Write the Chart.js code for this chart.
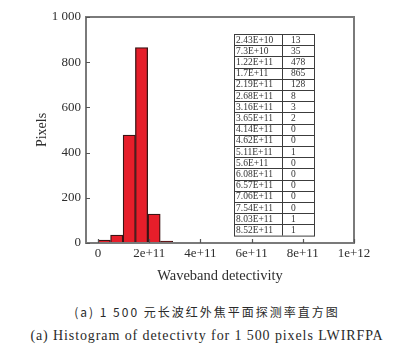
<!DOCTYPE html>
<html>
<head>
<meta charset="utf-8">
<script src="https://cdn.jsdelivr.net/npm/chart.js@4.4.1/dist/chart.umd.min.js"></script>
<style>
  html, body { margin: 0; padding: 0; background: #fff; }
  #wrap { position: relative; width: 414px; height: 354px; overflow: hidden; }
  #cv { position: absolute; left: 0; top: 0; }
  .cap { position: absolute; left: 0; width: 414px; text-align: center; color: #2a2a2a; white-space: nowrap; }
  #capZh { top: 303px; font-family: "Noto Sans CJK SC", sans-serif; font-size: 12px; letter-spacing: 2px; }
  #capEn { top: 328px; font-family: "Liberation Serif", "DejaVu Serif", serif; font-size: 14px; letter-spacing: 0.9px; }
</style>
</head>
<body>
<div id="wrap">
  <canvas id="cv" width="414" height="290"></canvas>
  <div class="cap" id="capZh">(a) 1 500 元长波红外焦平面探测率直方图</div>
  <div class="cap" id="capEn">(a) Histogram of detectivty for 1 500 pixels LWIRFPA</div>
</div>
<script>
// ---- data ----
const binLabels = ["2.43E+10","7.3E+10","1.22E+11","1.7E+11","2.19E+11","2.68E+11","3.16E+11","3.65E+11","4.14E+11","4.62E+11","5.11E+11","5.6E+11","6.08E+11","6.57E+11","7.06E+11","7.54E+11","8.03E+11","8.52E+11"];
const pixelCounts = [13, 35, 478, 865, 128, 8, 3, 2, 0, 0, 1, 0, 0, 0, 0, 0, 1, 1];
const xTickValues = [0, 2e11, 4e11, 6e11, 8e11, 1e12];
const xTickLabels = ["0", "2e+11", "4e+11", "6e+11", "8e+11", "1e+12"];
const yTickValues = [0, 200, 400, 600, 800, 1000];
const yTickLabels = ["0", "200", "400", "600", "800", "1 000"];
const xTitle = "Waveband detectivity";
const yTitle = "Pixels";

const serif = '"Liberation Serif", "DejaVu Serif", serif';
const textColor = '#2e2e2e';
const frameColor = '#7a7a7a';

const points = binLabels.map((s, i) => ({ x: Number(s), y: pixelCounts[i] }));

const framePlugin = {
  id: 'frameAndTable',
  afterDatasetsDraw(chart) {
    const { ctx, chartArea: a, scales } = chart;
    ctx.save();
    // frame
    ctx.strokeStyle = frameColor;
    ctx.lineWidth = 2;
    ctx.strokeRect(a.left, a.top, a.right - a.left, a.bottom - a.top);
    // inward ticks
    ctx.lineWidth = 1.2;
    ctx.strokeStyle = '#555';
    ctx.beginPath();
    xTickValues.forEach(v => {
      const px = Math.round(scales.x.getPixelForValue(v)) + 0.5;
      ctx.moveTo(px, a.bottom); ctx.lineTo(px, a.bottom - 4);
    });
    yTickValues.forEach(v => {
      const py = Math.round(scales.y.getPixelForValue(v)) + 0.5;
      ctx.moveTo(a.left, py); ctx.lineTo(a.left + 4, py);
    });
    ctx.stroke();
    // table
    const tx0 = 234, tx1 = 314, tsplit = 282, ty0 = 34, rowH = 11.2;
    const n = binLabels.length;
    ctx.strokeStyle = '#3c3c3c';
    ctx.lineWidth = 1;
    ctx.strokeRect(tx0 + 0.5, ty0 + 0.5, tx1 - tx0, rowH * n);
    ctx.beginPath();
    ctx.moveTo(tsplit + 0.5, ty0); ctx.lineTo(tsplit + 0.5, ty0 + rowH * n);
    for (let i = 1; i < n; i++) {
      const y = Math.round(ty0 + rowH * i) + 0.5;
      ctx.moveTo(tx0, y); ctx.lineTo(tx1, y);
    }
    ctx.stroke();
    ctx.fillStyle = '#333';
    ctx.font = '9.5px ' + serif;
    ctx.textBaseline = 'middle';
    ctx.textAlign = 'left';
    for (let i = 0; i < n; i++) {
      const cy = ty0 + rowH * i + rowH / 2 + 0.5;
      ctx.fillText(binLabels[i], tx0 + 2, cy);
      ctx.fillText(String(pixelCounts[i]), tsplit + 9, cy);
    }
    ctx.restore();
  }
};

new Chart(document.getElementById('cv'), {
  type: 'bar',
  data: {
    datasets: [{
      data: points,
      backgroundColor: '#e61e2a',
      borderColor: '#3a1414',
      borderWidth: 1.3,
      borderSkipped: 'start',
      barPercentage: 1,
      categoryPercentage: 1,
      grouped: false
    }]
  },
  options: {
    responsive: false,
    animation: false,
    devicePixelRatio: 1,
    layout: { padding: { top: 17, right: 60, left: 0, bottom: 0 } },
    plugins: { legend: { display: false }, tooltip: { enabled: false } },
    scales: {
      x: {
        type: 'linear',
        offset: false,
        min: -4.7e10,
        max: 1e12,
        grid: { display: false, drawTicks: false, offset: false },
        border: { display: false },
        afterBuildTicks: s => { s.ticks = xTickValues.map(v => ({ value: v })); },
        afterFit: s => { s.height = 47; },
        ticks: {
          padding: 3,
          color: textColor,
          font: { family: serif, size: 13 },
          maxRotation: 0,
          autoSkip: false,
          callback: (v) => { const i = xTickValues.indexOf(v); return i >= 0 ? xTickLabels[i] : ''; }
        },
        title: {
          display: true, text: xTitle, color: textColor,
          font: { family: serif, size: 14.5 },
          padding: { top: 4, bottom: 5 }
        }
      },
      y: {
        min: 0,
        max: 1000,
        grid: { display: false, drawTicks: false },
        border: { display: false },
        afterBuildTicks: s => { s.ticks = yTickValues.map(v => ({ value: v })); },
        afterFit: s => { s.width = 86; },
        ticks: {
          padding: 5,
          color: textColor,
          font: { family: serif, size: 13 },
          autoSkip: false,
          callback: (v) => { const i = yTickValues.indexOf(v); return i >= 0 ? yTickLabels[i] : ''; }
        },
        title: {
          display: true, text: yTitle, color: textColor,
          font: { family: serif, size: 14 },
          padding: { top: 34, bottom: 0 }
        }
      }
    }
  },
  plugins: [framePlugin]
});
</script>
</body>
</html>
